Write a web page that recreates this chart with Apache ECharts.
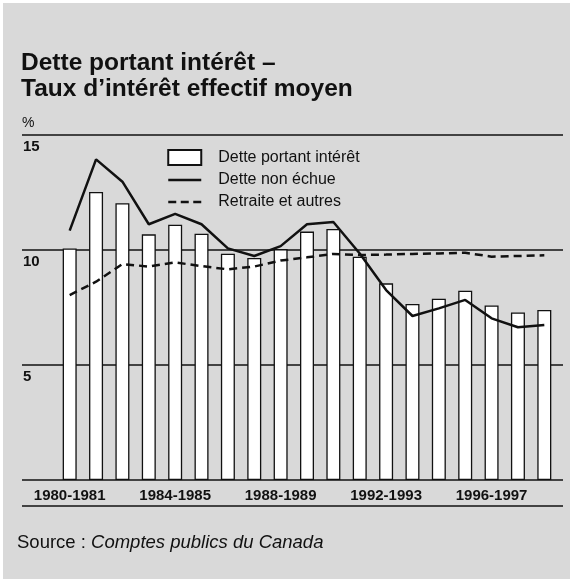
<!DOCTYPE html>
<html>
<head>
<meta charset="utf-8">
<script src="https://cdn.jsdelivr.net/npm/echarts@6/dist/echarts.min.js"></script>
<style>
html,body{margin:0;padding:0;background:#ffffff;}
#chart{width:570px;height:579px;}
</style>
</head>
<body>
<div id="chart"></div>
<script>
var categories = ['1980-1981','1981-1982','1982-1983','1983-1984','1984-1985','1985-1986','1986-1987','1987-1988','1988-1989','1989-1990','1990-1991','1991-1992','1992-1993','1993-1994','1994-1995','1995-1996','1996-1997','1997-1998','1998-1999'];
var detteTotale = [10.07,12.52,12.03,10.68,11.10,10.71,9.84,9.65,10.04,10.80,10.91,9.71,8.55,7.65,7.88,8.23,7.59,7.28,7.39];
var detteNonEchue = [10.84,13.94,12.97,11.12,11.57,11.12,10.07,9.74,10.17,11.12,11.22,9.85,8.26,7.13,7.46,7.83,7.03,6.64,6.74];
var retraite = [8.04,8.62,9.39,9.28,9.46,9.30,9.16,9.28,9.54,9.68,9.83,9.78,9.80,9.83,9.85,9.88,9.71,9.74,9.77];
var yTicks = [0,5,10,15];

var FONT = "'Liberation Sans', Arial, Helvetica, sans-serif";
var INK = '#111111';

var chart = echarts.init(document.getElementById('chart'), null, {renderer:'canvas'});
chart.setOption({
  backgroundColor: '#ffffff',
  animation: false,
  textStyle: {fontFamily: FONT},
  graphic: [
    {type:'rect', z:-10, shape:{x:3, y:3, width:567, height:576}, style:{fill:'#d9d9d9'}},
    {type:'text', left:21, top:50, style:{text:'Dette portant intérêt –\nTaux d’intérêt effectif moyen', font:'bold 24.5px '+FONT, lineHeight:26, fill:INK}},
    {type:'text', left:22, top:116, style:{text:'%', font:'14px '+FONT, fill:INK}},
    {type:'line', shape:{x1:22, y1:506, x2:563, y2:506}, style:{stroke:INK, lineWidth:1.5}},
    {type:'text', left:17, top:533, style:{
      text:'{n|Source : }{i|Comptes publics du Canada}',
      rich:{n:{font:'18.5px '+FONT, fill:INK}, i:{font:'italic 18.5px '+FONT, fill:INK}}
    }}
  ],
  legend: {
    orient:'vertical', left:167, top:149, itemWidth:33, itemHeight:15, itemGap:6, padding:0,
    textStyle:{fontSize:16, color:INK, fontFamily:FONT, padding:[0,0,0,12]},
    data:[
      {name:'Dette portant intérêt', icon:'rect'},
      {name:'Dette non échue', itemStyle:{opacity:0}, lineStyle:{width:2.5}},
      {name:'Retraite et autres', itemStyle:{opacity:0}, lineStyle:{width:2.5, type:[8,4.5]}}
    ]
  },
  grid: [
    {left:22, right:7, top:135, bottom:99},
    {left:56.5, right:12.5, top:135, bottom:99}
  ],
  xAxis: [
    {type:'category', gridIndex:0, data:categories, show:false},
    {type:'category', gridIndex:1, data:categories,
      axisLine:{show:false}, axisTick:{show:false},
      axisLabel:{interval:3, margin:8, fontWeight:'bold', fontSize:15, color:INK, fontFamily:FONT}}
  ],
  yAxis: [
    {type:'value', gridIndex:0, min:yTicks[0], max:yTicks[yTicks.length-1], interval:5,
      axisLine:{show:false}, axisTick:{show:false},
      splitLine:{lineStyle:{color:INK, width:1.5}},
      axisLabel:{inside:true, align:'left', verticalAlign:'top', margin:1, padding:[4,0,0,0],
        fontWeight:'bold', fontSize:15, color:INK, fontFamily:FONT,
        formatter:function(v){return v===0?'':String(v);}}},
    {type:'value', gridIndex:1, min:yTicks[0], max:yTicks[yTicks.length-1], interval:5, show:false, splitLine:{show:false}}
  ],
  series: [
    {name:'Dette portant intérêt', type:'bar', xAxisIndex:1, yAxisIndex:1, data:detteTotale, barWidth:14,
      itemStyle:{color:'#ffffff', borderColor:INK, borderWidth:1.3}},
    {name:'Dette non échue', type:'line', xAxisIndex:1, yAxisIndex:1, data:detteNonEchue, symbol:'none',
      lineStyle:{color:INK, width:2.5}, itemStyle:{color:INK}},
    {name:'Retraite et autres', type:'line', xAxisIndex:1, yAxisIndex:1, data:retraite, symbol:'none',
      lineStyle:{color:INK, width:2.5, type:[8,5]}, itemStyle:{color:INK}}
  ]
});
</script>
</body>
</html>
